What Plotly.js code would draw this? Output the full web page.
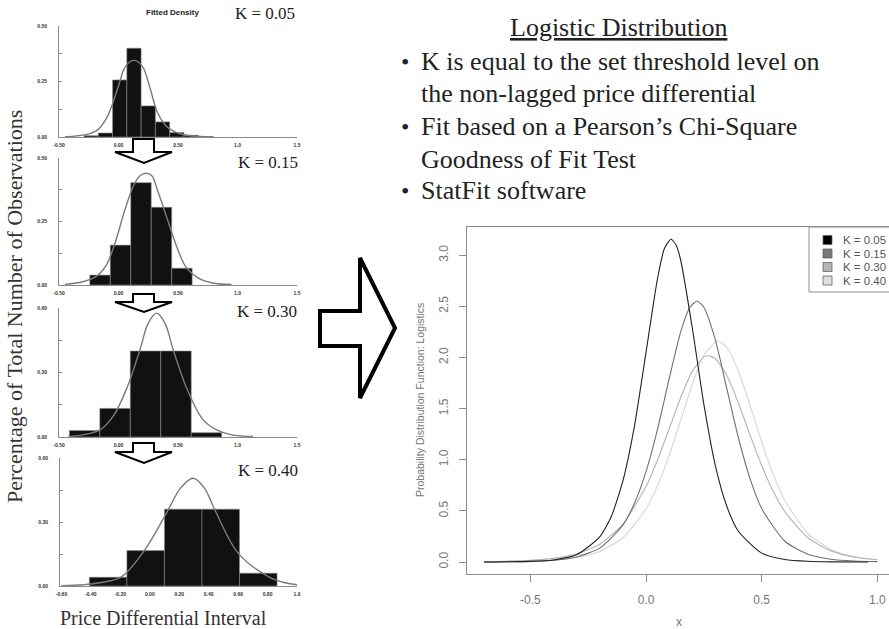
<!DOCTYPE html>
<html><head><meta charset="utf-8">
<script src="https://cdn.plot.ly/plotly-3.0.1.min.js"></script>
<style>html,body{margin:0;padding:0;background:#fff;}#chart{width:889px;height:629px;}</style>
</head><body><div id="chart"></div>
<script>
// ---------- DATA ----------
// Left histograms (fraction of observations per bin) and fitted densities
const kLabels = ["K = 0.05", "K = 0.15", "K = 0.30", "K = 0.40"];

const h05Centers = [-0.23, -0.11, 0.01, 0.13, 0.25, 0.37, 0.49, 0.61];
const h05Heights = [0.006, 0.018, 0.257, 0.40, 0.14, 0.068, 0.02, 0.008];
const h05Width = 0.12;
const f05X = [-0.45, -0.35, -0.25, -0.18, -0.1, -0.05, 0.0, 0.05, 0.1, 0.13, 0.16, 0.21, 0.26, 0.33, 0.4, 0.47, 0.55, 0.69, 0.8];
const f05Y = [0.001, 0.005, 0.014, 0.03, 0.085, 0.15, 0.23, 0.31, 0.34, 0.345, 0.34, 0.31, 0.23, 0.107, 0.05, 0.024, 0.01, 0.002, 0.001];

const h15Centers = [-0.155, 0.017, 0.189, 0.361, 0.533];
const h15Heights = [0.039, 0.157, 0.403, 0.306, 0.066];
const h15Width = 0.172;
const f15X = [-0.45, -0.3, -0.2, -0.155, -0.1, -0.03, 0.05, 0.125, 0.18, 0.23, 0.28, 0.33, 0.41, 0.49, 0.56, 0.615, 0.7, 0.8, 0.95];
const f15Y = [0.002, 0.013, 0.03, 0.046, 0.08, 0.164, 0.29, 0.39, 0.43, 0.44, 0.43, 0.37, 0.26, 0.15, 0.075, 0.046, 0.02, 0.007, 0.002];

const h30Centers = [-0.285, -0.029, 0.227, 0.483, 0.739];
const h30Heights = [0.03, 0.133, 0.40, 0.40, 0.02];
const h30Width = 0.256;
const f30X = [-0.42, -0.3, -0.155, -0.044, 0.07, 0.18, 0.25, 0.32, 0.39, 0.46, 0.573, 0.71, 0.825, 0.95, 1.13];
const f30Y = [0.003, 0.01, 0.033, 0.097, 0.227, 0.405, 0.53, 0.576, 0.53, 0.405, 0.227, 0.081, 0.033, 0.01, 0.002];

const h40Centers = [-0.283, -0.028, 0.227, 0.482, 0.737];
const h40Heights = [0.041, 0.166, 0.36, 0.36, 0.06];
const h40Width = 0.255;
const f40X = [-0.6, -0.45, -0.3, -0.19, -0.034, 0.125, 0.21, 0.295, 0.37, 0.442, 0.6, 0.805, 0.92, 1.0];
const f40Y = [0.001, 0.006, 0.02, 0.044, 0.169, 0.357, 0.46, 0.505, 0.46, 0.357, 0.154, 0.044, 0.015, 0.006];

// Left axis ticks
const xTickVals = [-0.5, 0, 0.5, 1.0, 1.5];
const xTickText = ["-0.50", "0.00", "0.50", "1.0", "1.5"];
const x4TickVals = [-0.6, -0.4, -0.2, 0, 0.2, 0.4, 0.6, 0.8, 1.0];
const x4TickText = ["-0.60", "-0.40", "-0.20", "0.00", "0.20", "0.40", "0.60", "0.80", "1.0"];
const yTickValsA = [0, 0.125, 0.25, 0.375, 0.5];
const yTickTextA = ["0.00", "", "0.25", "", "0.50"];
const yTickValsB = [0, 0.15, 0.30, 0.45, 0.60];
const yTickTextB = ["0.00", "", "0.30", "", "0.60"];

// Right chart: fitted logistic densities
const c05X = [-0.7, -0.5, -0.4, -0.3, -0.2, -0.15, -0.1, -0.05, 0, 0.05, 0.08, 0.108, 0.13, 0.15, 0.2, 0.25, 0.3, 0.35, 0.4, 0.5, 0.6, 0.7, 0.8, 0.96];
const c05Y = [0.0005, 0.006, 0.02, 0.07, 0.246, 0.446, 0.793, 1.329, 2.049, 2.774, 3.067, 3.155, 3.10, 2.95, 2.29, 1.544, 0.941, 0.54, 0.298, 0.087, 0.025, 0.007, 0.002, 0.0005];
const c15X = [-0.7, -0.5, -0.4, -0.3, -0.2, -0.1, -0.05, 0, 0.05, 0.1, 0.15, 0.19, 0.22, 0.25, 0.3, 0.35, 0.4, 0.45, 0.5, 0.6, 0.7, 0.8, 0.9, 1.0];
const c15Y = [0.001, 0.0065, 0.018, 0.05, 0.136, 0.36, 0.574, 0.884, 1.30, 1.79, 2.25, 2.49, 2.551, 2.49, 2.17, 1.69, 1.21, 0.813, 0.524, 0.203, 0.075, 0.027, 0.0097, 0.0035];
const c30X = [-0.7, -0.5, -0.4, -0.3, -0.2, -0.1, 0, 0.05, 0.1, 0.15, 0.2, 0.25, 0.27, 0.3, 0.35, 0.4, 0.45, 0.5, 0.55, 0.6, 0.7, 0.8, 0.9, 1.0];
const c30Y = [0.003, 0.016, 0.036, 0.08, 0.174, 0.371, 0.738, 1.0, 1.302, 1.609, 1.864, 2.003, 2.016, 1.987, 1.82, 1.55, 1.24, 0.944, 0.691, 0.493, 0.237, 0.109, 0.049, 0.022];
const c40X = [-0.7, -0.5, -0.4, -0.3, -0.2, -0.1, 0, 0.05, 0.1, 0.15, 0.2, 0.25, 0.31, 0.35, 0.4, 0.45, 0.5, 0.55, 0.6, 0.7, 0.8, 0.9, 1.0];
const c40Y = [0.0014, 0.008, 0.019, 0.044, 0.103, 0.237, 0.519, 0.747, 1.04, 1.385, 1.737, 2.021, 2.16, 2.097, 1.863, 1.529, 1.174, 0.857, 0.603, 0.278, 0.122, 0.052, 0.022];
const curveColors = ["#222222", "#707070", "#b4b4b4", "#d6d6d6"];

const rxTickVals = [-0.5, 0, 0.5, 1.0];
const rxTickText = ["-0.5", "0.0", "0.5", "1.0"];
const ryTickVals = [0, 0.5, 1.0, 1.5, 2.0, 2.5, 3.0];
const ryTickText = ["0.0", "0.5", "1.0", "1.5", "2.0", "2.5", "3.0"];

// Slide text
const slideTitle = "Logistic Distribution";
const bulletLines = [
  {b: true, t: "K is equal to the set threshold level on"},
  {b: false, t: "the non-lagged price differential"},
  {b: true, t: "Fit based on a Pearson\u2019s Chi-Square"},
  {b: false, t: "Goodness of Fit Test"},
  {b: true, t: "StatFit software"}
];

// ---------- HELPERS ----------
const W = 889, H = 629;
const PX = x => x / W;
const PY = y => 1 - y / H;
function pathPx(pts) {
  return "M" + pts.map(p => PX(p[0]).toFixed(5) + "," + PY(p[1]).toFixed(5)).join(" L") + " Z";
}

const traces = [];
const hist = [
  [h05Centers, h05Heights, h05Width, f05X, f05Y],
  [h15Centers, h15Heights, h15Width, f15X, f15Y],
  [h30Centers, h30Heights, h30Width, f30X, f30Y],
  [h40Centers, h40Heights, h40Width, f40X, f40Y]
];
hist.forEach((h, i) => {
  const xa = i === 0 ? "x" : "x" + (i + 1);
  const ya = i === 0 ? "y" : "y" + (i + 1);
  traces.push({type: "bar", x: h[0], y: h[1], width: h[2], xaxis: xa, yaxis: ya,
    marker: {color: "#111111", line: {color: "#8a8a8a", width: 0.6}}, hoverinfo: "skip"});
  traces.push({type: "scatter", mode: "lines", x: h[3], y: h[4], xaxis: xa, yaxis: ya,
    line: {color: "#7a7a7a", width: 1.4, shape: "spline", smoothing: 1}, hoverinfo: "skip"});
});
const curves = [[c05X, c05Y], [c15X, c15Y], [c30X, c30Y], [c40X, c40Y]];
// draw lightest first so darker lines sit on top
[3, 2, 1, 0].forEach(i => {
  traces.push({type: "scatter", mode: "lines", x: curves[i][0], y: curves[i][1], xaxis: "x5", yaxis: "y5",
    line: {color: curveColors[i], width: 1.1, shape: "spline", smoothing: 0.6}, hoverinfo: "skip", name: kLabels[i]});
});

// ---------- AXES ----------
const smallFont = {family: "Arial", size: 5, color: "#333", weight: "bold"};
function leftX(domPx, range, tv, tt) {
  return {domain: [PX(domPx[0]), PX(domPx[1])], range: range, showgrid: false, zeroline: false,
    showline: true, linecolor: "#8a8a8a", linewidth: 1, ticks: "", tickvals: tv, ticktext: tt,
    tickfont: smallFont, ticklabelstandoff: 3, fixedrange: true};
}
function leftY(domPx, range, tv, tt, anchor) {
  return {domain: [PY(domPx[1]), PY(domPx[0])], range: range, showgrid: false, zeroline: false,
    showline: true, linecolor: "#8a8a8a", linewidth: 1, ticks: "inside", ticklen: 3, tickcolor: "#8a8a8a",
    tickvals: tv, ticktext: tt, tickfont: smallFont, ticklabelstandoff: 10, anchor: anchor, fixedrange: true};
}

const layout = {
  width: W, height: H, margin: {l: 0, r: 0, t: 0, b: 0}, paper_bgcolor: "#fff", plot_bgcolor: "rgba(0,0,0,0)",
  showlegend: false, barmode: "overlay",
  xaxis: Object.assign(leftX([59, 297], [-0.5, 1.5], xTickVals, xTickText), {anchor: "y"}),
  yaxis: leftY([26, 137], [0, 0.5], yTickValsA, yTickTextA, "x"),
  xaxis2: Object.assign(leftX([59, 297], [-0.5, 1.5], xTickVals, xTickText), {anchor: "y2"}),
  yaxis2: leftY([158, 285], [0, 0.5], yTickValsA, yTickTextA, "x2"),
  xaxis3: Object.assign(leftX([59, 297], [-0.5, 1.5], xTickVals, xTickText), {anchor: "y3"}),
  yaxis3: leftY([308, 437], [0, 0.6], yTickValsB, yTickTextB, "x3"),
  xaxis4: Object.assign(leftX([60, 297], [-0.61, 1.0], x4TickVals, x4TickText), {anchor: "y4"}),
  yaxis4: leftY([458, 586], [0, 0.6], yTickValsB, yTickTextB, "x4"),
  xaxis5: {domain: [PX(467), 1], range: [-0.774, 1.0506], anchor: "y5", showgrid: false, zeroline: false,
    showline: true, mirror: true, linecolor: "#8c8c8c", linewidth: 1, ticks: "outside", ticklen: 7, tickcolor: "#8c8c8c",
    tickvals: rxTickVals, ticktext: rxTickText, tickfont: {family: "Liberation Sans", size: 12, color: "#777"},
    ticklabelstandoff: 8, fixedrange: true},
  yaxis5: {domain: [PY(574), PY(227)], range: [-0.117, 3.275], anchor: "x5", showgrid: false, zeroline: false,
    showline: true, linecolor: "#8c8c8c", linewidth: 1, ticks: "outside", ticklen: 7, tickcolor: "#8c8c8c",
    tickvals: ryTickVals, ticktext: ryTickText, tickangle: -90, tickfont: {family: "Liberation Sans", size: 12, color: "#777"},
    ticklabelstandoff: 6, fixedrange: true},
  annotations: [], shapes: []
};

const serif = "Liberation Serif, Times New Roman, serif";
const A = layout.annotations, S = layout.shapes;
function ann(text, x, y, font, extra) {
  A.push(Object.assign({text: text, x: PX(x), y: PY(y), xref: "paper", yref: "paper", showarrow: false,
    xanchor: "center", yanchor: "middle", font: font}, extra || {}));
}

// K labels on the histogram panels
const kPos = [[265, 13], [268, 162], [267, 312], [268, 470]];
kLabels.forEach((k, i) => ann(k, kPos[i][0], kPos[i][1], {family: serif, size: 17, color: "#222"}));
ann("Fitted Density", 172, 12, {family: "Arial", size: 8, color: "#222", weight: "bold"});
ann("Percentage of Total Number of Observations", 14, 307, {family: serif, size: 22, color: "#333"}, {textangle: -90});
ann("Price Differential Interval", 163, 618, {family: serif, size: 20, color: "#333"});

// Slide text
ann("<u>" + slideTitle + "</u>", 618, 28, {family: serif, size: 26, color: "#222"});
const lineY = [62, 94, 127, 159, 191];
bulletLines.forEach((l, i) => {
  if (l.b) ann("\u2022", 405, lineY[i], {family: serif, size: 24, color: "#222"});
  ann(l.t, 419, lineY[i], {family: serif, size: 26, color: "#222"}, {xanchor: "left"});
});

// Right chart labels
ann("Probability Distribution Function: Logistics", 420, 400, {family: "Liberation Sans", size: 10.5, color: "#777"}, {textangle: -90});
ann("x", 679, 622, {family: "Liberation Sans", size: 12, color: "#777"});

// Legend (top-right of the density plot)
S.push({type: "rect", xref: "paper", yref: "paper", x0: PX(809), x1: PX(900), y0: PY(292), y1: PY(227),
  line: {color: "#8c8c8c", width: 1}, fillcolor: "rgba(255,255,255,1)"});
const legY = [240, 253.5, 267, 280.5];
kLabels.forEach((k, i) => {
  S.push({type: "rect", xref: "paper", yref: "paper", x0: PX(823), x1: PX(832), y0: PY(legY[i] + 4.5), y1: PY(legY[i] - 4.5),
    line: {color: "#666", width: 0.8}, fillcolor: i === 0 ? "#000" : (i === 1 ? "#777" : (i === 2 ? "#b4b4b4" : "#dedede"))});
  ann(k, 841, legY[i], {family: "Liberation Sans", size: 11.5, color: "#555"}, {xanchor: "left"});
});

// Down arrows between histograms
[[139, 152, 163], [294, 302, 312], [443, 452, 463]].forEach(a => {
  S.push({type: "path", xref: "paper", yref: "paper",
    path: pathPx([[133, a[0]], [154, a[0]], [154, a[1]], [172, a[1]], [144, a[2]], [115, a[1]], [133, a[1]]]),
    line: {color: "#000", width: 2}, fillcolor: "#fff"});
});
// Big right arrow
S.push({type: "path", xref: "paper", yref: "paper",
  path: pathPx([[320, 311], [360, 311], [360, 258], [395, 328], [360, 398], [360, 346], [320, 346]]),
  line: {color: "#000", width: 4}, fillcolor: "#fff"});

Plotly.newPlot("chart", traces, layout, {staticPlot: true, displayModeBar: false});
</script>
</body></html>
